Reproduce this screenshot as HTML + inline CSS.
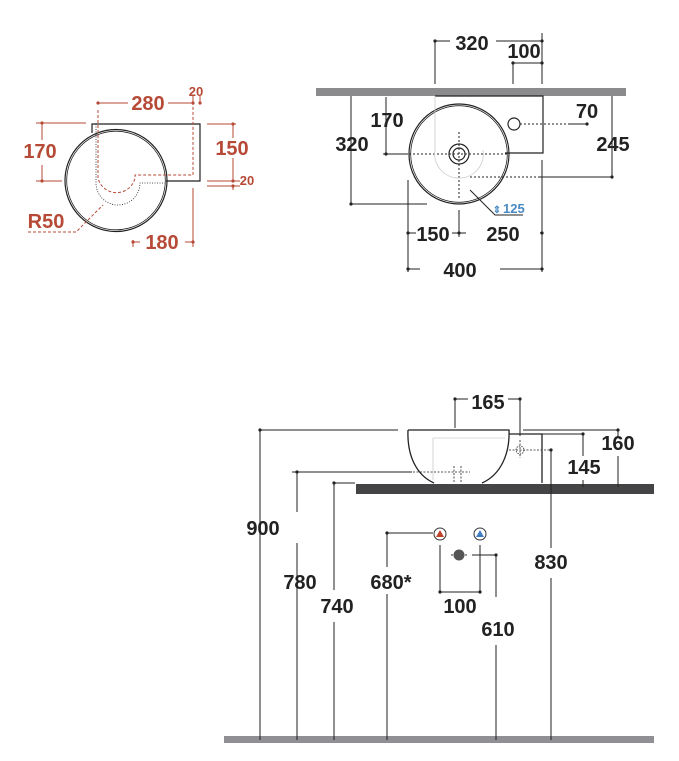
<!DOCTYPE html>
<html><head><meta charset="utf-8"><style>
html,body{margin:0;padding:0;background:#fff;}
svg{display:block;}
text{font-family:"Liberation Sans",sans-serif;font-weight:bold;}
</style></head><body>
<svg width="679" height="761" viewBox="0 0 679 761" xmlns="http://www.w3.org/2000/svg">
<!-- TOP LEFT (red) -->
<g fill="none" stroke="#222" stroke-width="1.2">
<path d="M92,133 V124 H200 V181 H166"/>
<circle cx="116" cy="180.5" r="51"/>
<circle cx="116" cy="180.5" r="49.3" stroke-width="0.8"/>
<path d="M96,124 V183 A22,22 0 0 0 140,183 H166" stroke-dasharray="1,1.5" stroke-width="0.8"/>
</g>
<g fill="none" stroke="#b64a36" stroke-width="1">
<path d="M98,110 V178 A19,19 0 0 0 135,178 V175 H193 V96" stroke-dasharray="3,2"/>
<path d="M28,232 H76 L103,205" stroke-dasharray="3,2"/>
<path d="M98,103 H128 M168,103 H193 M193,96 V103 M200,96 V103"/>
<path d="M42,123 V140 M42,165 V181 M36,123 H86 M36,181 H62"/>
<path d="M233,124 V138 M233,158 V181 M207,124 H236 M207,181 H240 M207,186 H240 M233,186 V190"/>
<path d="M133,240 V247 M133,242 H140 M185,242 H193 M193,188 V247"/>
</g>
<g fill="#b64a36">
<circle cx="98" cy="103" r="1.6"/><circle cx="193" cy="103" r="1.6"/><circle cx="200" cy="103" r="1.6"/>
<circle cx="42" cy="123" r="1.6"/><circle cx="42" cy="181" r="1.6"/>
<circle cx="233" cy="124" r="1.6"/><circle cx="233" cy="181" r="1.6"/><circle cx="233" cy="186" r="1.6"/>
<circle cx="133" cy="242" r="1.6"/><circle cx="193" cy="242" r="1.6"/>
<text x="148" y="110" font-size="20" text-anchor="middle">280</text>
<text x="196" y="96" font-size="13" text-anchor="middle">20</text>
<text x="40" y="158" font-size="20" text-anchor="middle">170</text>
<text x="232" y="155" font-size="20" text-anchor="middle">150</text>
<text x="247" y="185" font-size="13" text-anchor="middle">20</text>
<text x="46" y="228" font-size="20" text-anchor="middle">R50</text>
<text x="162" y="249" font-size="20" text-anchor="middle">180</text>
</g>

<!-- TOP RIGHT -->
<rect x="316" y="88" width="310" height="8" fill="#8b8b8e"/>
<g fill="none" stroke="#222" stroke-width="1.2">
<path d="M435,96 H543 V153 H505"/>
<circle cx="459" cy="154" r="50"/>
<circle cx="459" cy="154" r="48.3" stroke-width="0.8"/>
<circle cx="459" cy="154" r="10"/>
<circle cx="459" cy="154" r="6"/>
<circle cx="514" cy="124" r="6"/>
</g>
<g fill="none" stroke="#222" stroke-width="1">
<path d="M435,41 V84 M435,41 H450 M496,41 H542 M542,33 V84 M513,63 H542 M513,63 V84"/>
<path d="M386,97 V154 M383,154 H408" />
<path d="M351,96 V204 M351,204 H427"/>
<path d="M569,124 H587"/>
<path d="M612,96 V177 M540,177 H612"/>
<path d="M408,180 V272 M542,160 V272 M408,233 H416 M452,233 H466 M459,210 V237 M540,233 H542 M408,269 H420 M500,269 H542"/>
<path d="M470,190 L495,215 H523"/>
</g>
<g fill="none" stroke="#222" stroke-width="1" stroke-dasharray="2,2">
<path d="M409,154 H509 M459,132 V200 M520,124 H569 M470,177 H540"/>
</g>
<path d="M435,96 V150 A24,24 0 0 0 459,178 A24,24 0 0 0 483,150" fill="none" stroke="#ccc" stroke-width="0.8"/>
<g fill="#222">
<circle cx="435" cy="41" r="1.6"/><circle cx="542" cy="41" r="1.6"/><circle cx="513" cy="63" r="1.6"/><circle cx="542" cy="63" r="1.6"/>
<circle cx="386" cy="154" r="1.6"/><circle cx="351" cy="204" r="1.6"/><circle cx="587" cy="124" r="1.6"/>
<circle cx="612" cy="177" r="1.6"/><circle cx="408" cy="233" r="1.6"/><circle cx="459" cy="233" r="1.6"/><circle cx="542" cy="233" r="1.6"/>
<circle cx="408" cy="269" r="1.6"/><circle cx="542" cy="269" r="1.6"/>
<text x="472" y="50" font-size="20" text-anchor="middle">320</text>
<text x="524" y="58" font-size="20" text-anchor="middle">100</text>
<text x="387" y="127" font-size="20" text-anchor="middle">170</text>
<text x="352" y="151" font-size="20" text-anchor="middle">320</text>
<text x="587" y="118" font-size="20" text-anchor="middle">70</text>
<text x="613" y="151" font-size="20" text-anchor="middle">245</text>
<text x="433" y="241" font-size="20" text-anchor="middle">150</text>
<text x="503" y="241" font-size="20" text-anchor="middle">250</text>
<text x="460" y="277" font-size="20" text-anchor="middle">400</text>
</g>
<text x="503" y="213" font-size="13" fill="#4a8ac4">125</text>
<text x="497" y="213" font-size="10" fill="#4a8ac4" text-anchor="middle">⇕</text>

<!-- BOTTOM -->
<rect x="356" y="484" width="298" height="10" fill="#444446"/>
<rect x="224" y="736" width="430" height="7" fill="#8f8f94"/>
<g fill="none" stroke="#222" stroke-width="1.3">
<path d="M408,430 H509 C510,455 500,475 482,483 M408,430 C407,455 416,475 434,483"/>
<path d="M509,434 H542 V483"/>
</g>
<g fill="none" stroke="#222" stroke-width="1">
<path d="M455,399 V428 M455,399 H468 M508,399 H520 M520,399 V436"/>
<path d="M260,430 V740 M260,430 H398"/>
<path d="M297,472 V512 M297,543 V740 M292,472 H412"/>
<path d="M334,483 V590 M334,622 V740 M334,483 H355"/>
<path d="M387,533 V567 M387,594 V740 M387,533 H433"/>
<path d="M440,545 V592 M480,545 V592 M440,592 H480"/>
<path d="M472,555 H496 M496,555 V597 M496,645 V740"/>
<path d="M551,450 V548 M551,578 V740"/>
<path d="M528,434 H583 M583,434 V456 M583,480 V487"/>
<path d="M523,430 H618 M618,430 V436 M618,456 V487"/>
</g>
<g fill="none" stroke="#222" stroke-width="0.8" stroke-dasharray="2,1.5">
<path d="M413,472 H470 M509,450 H551 M520,440 V458 M454,466 V483 M461,466 V483"/>
</g>
<path d="M433,438 V480 M433,438 H505" fill="none" stroke="#ccc" stroke-width="0.8"/>
<circle cx="520" cy="450" r="4" fill="none" stroke="#333" stroke-width="0.8" stroke-dasharray="1.5,1"/>
<g stroke="#333" stroke-width="1">
<circle cx="440" cy="534" r="6" fill="#fff"/>
<circle cx="480" cy="534" r="6" fill="#fff"/>
</g>
<path d="M436,537 L440,530 L444,537 Z" fill="#c0432c"/>
<path d="M476,537 L480,530 L484,537 Z" fill="#3f7ec2"/>
<circle cx="459" cy="555" r="5.5" fill="#555"/>
<path d="M451,555 H453 M465,555 H467" stroke="#333" stroke-width="1"/>
<g fill="#222">
<circle cx="455" cy="399" r="1.6"/><circle cx="520" cy="399" r="1.6"/>
<circle cx="260" cy="430" r="1.6"/><circle cx="297" cy="472" r="1.6"/><circle cx="334" cy="483" r="1.6"/>
<circle cx="387" cy="533" r="1.6"/><circle cx="440" cy="592" r="1.6"/><circle cx="480" cy="592" r="1.6"/>
<circle cx="496" cy="555" r="1.6"/><circle cx="551" cy="450" r="1.6"/><circle cx="583" cy="434" r="1.6"/><circle cx="618" cy="430" r="1.6"/>
<text x="488" y="409" font-size="20" text-anchor="middle">165</text>
<text x="618" y="450" font-size="20" text-anchor="middle">160</text>
<text x="584" y="474" font-size="20" text-anchor="middle">145</text>
<text x="263" y="535" font-size="20" text-anchor="middle">900</text>
<text x="300" y="589" font-size="20" text-anchor="middle">780</text>
<text x="337" y="613" font-size="20" text-anchor="middle">740</text>
<text x="391" y="589" font-size="20" text-anchor="middle">680*</text>
<text x="460" y="613" font-size="20" text-anchor="middle">100</text>
<text x="498" y="636" font-size="20" text-anchor="middle">610</text>
<text x="551" y="569" font-size="20" text-anchor="middle">830</text>
</g>
</svg>
</body></html>
